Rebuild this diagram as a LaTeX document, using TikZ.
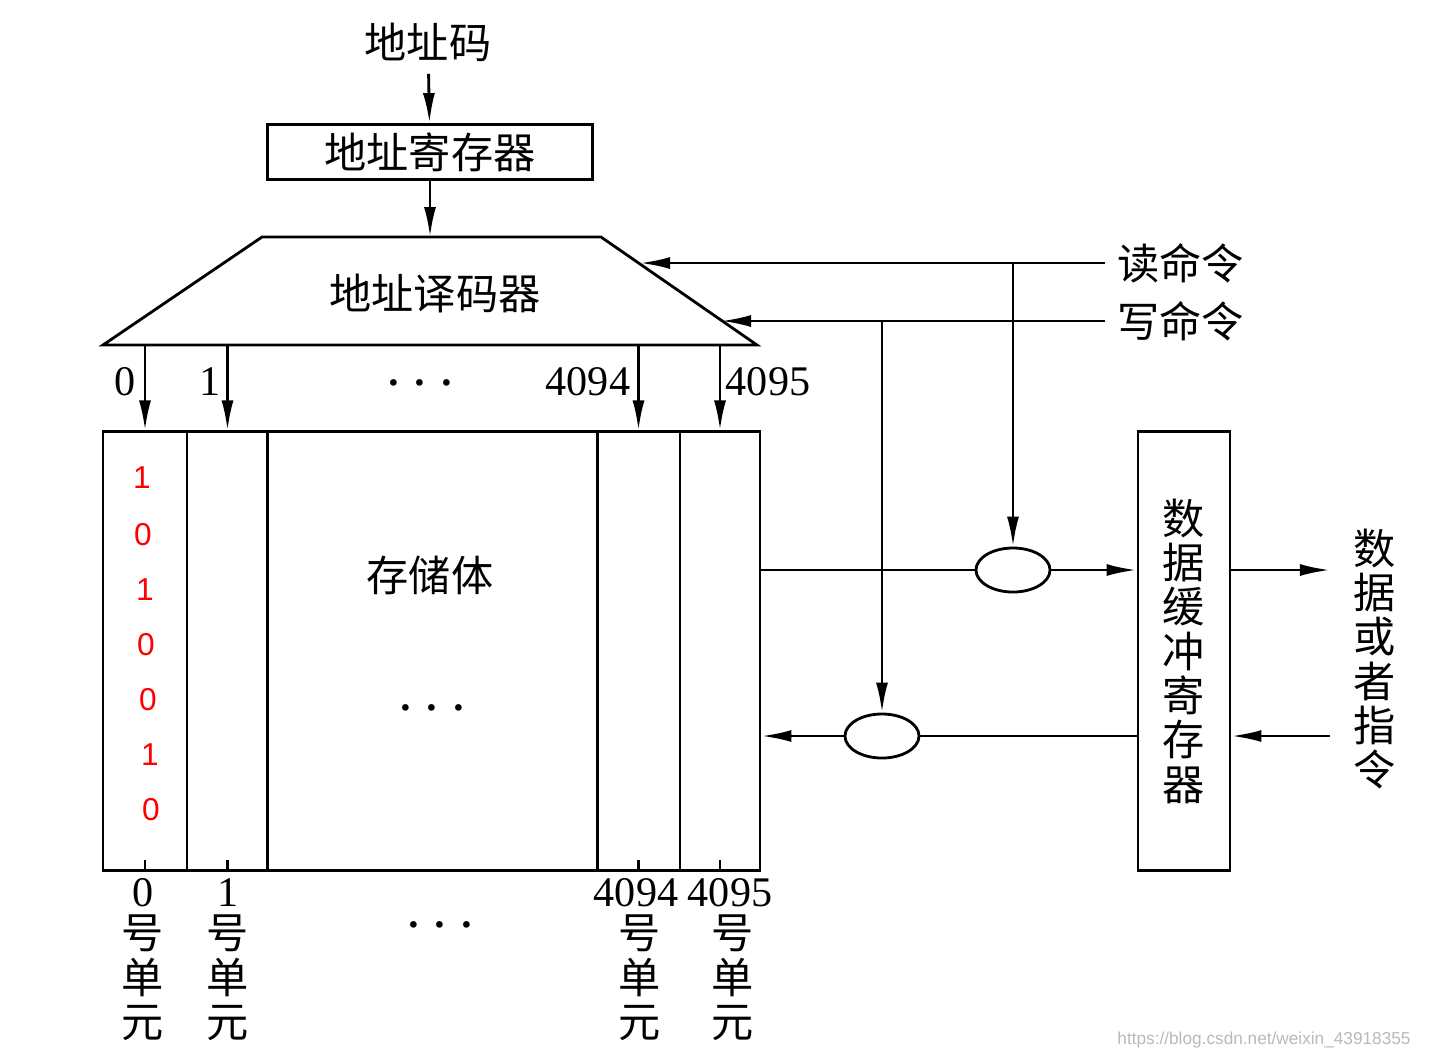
\documentclass[tikz,border=0pt]{standalone}
\usepackage{fontspec}
\setmainfont{Liberation Serif}
\newfontfamily\cjk{Noto Sans CJK SC}
\newfontfamily\bitfont{Liberation Sans}
\usetikzlibrary{arrows.meta, positioning, shapes.geometric}
\newcommand{\tridots}{·\kern2.2pt·\kern2.2pt·}

\begin{document}
\begin{tikzpicture}[
		x=0.01cm, y=-0.01cm,
		every node/.style={font=\fontsize{12}{12}\selectfont},
		zh/.style={font=\fontsize{12}{12.6}\selectfont\cjk},
		block/.style={draw, line width=0.8pt, inner sep=0pt},
		cell/.style={block, minimum height=4.38cm},
		gate/.style={draw, ellipse, line width=0.8pt, minimum width=0.74cm, minimum height=0.44cm, inner sep=0pt},
		vtext/.style={zh, align=center, inner sep=0pt},
		bit/.style={text=red, font=\fontsize{9}{9}\selectfont\bitfont},
		dots/.style={font=\fontsize{16}{16}\selectfont},
		arrowstyle/.style={-{Latex[length=3mm, width=1.2mm]}, line width=0.8pt},
		wire/.style={line width=0.8pt}
	]
	\useasboundingbox (0,0) rectangle (1432,1059);

	% address path
	\node[zh] (addr) at (428,42) {地址码};
	\node[block, zh, minimum width=3.25cm, minimum height=0.55cm] (areg) at (430,152) {地址寄存器};
	\draw[arrowstyle] (addr) -- (areg);

	% decoder
	\draw[wire] (103,345) -- (262,237) -- (601,237) -- (757,345) -- cycle;
	\node[zh] (dec) at (435,293) {地址译码器};
	\coordinate (dectop) at (430,237);
	\coordinate (decbot) at (430,345);
	\draw[arrowstyle] (areg) -- (dectop);

	% storage cells
	\node[cell, minimum width=0.84cm] (c0) at (145,651) {};
	\node[cell, minimum width=0.81cm] (c1) at (227.5,651) {};
	\node[cell, minimum width=3.29cm] (cmid) at (432.5,651) {};
	\node[cell, minimum width=0.83cm] (c4094) at (638.5,651) {};
	\node[cell, minimum width=0.80cm] (c4095) at (720,651) {};
	\node[zh] (body) at (430,575) {存储体};
	\node[dots] (bdots) at (432,716) {\tridots};

	\foreach \c in {c0,c1,c4094,c4095} {
		\draw[arrowstyle] (\c.north |- decbot) -- (\c.north);
		\draw[wire] (\c.south) -- ++(0,-12);
	}
	\node (l0) at (125,382) {0};
	\node (l1) at (210,382) {1};
	\node[dots] (ldots) at (420,391) {\tridots};
	\node (l4094) at (588,382) {4094};
	\node (l4095) at (768,382) {4095};

	% bits in unit 0
	\foreach \y/\b/\x [count=\i] in {478/1/142, 535/0/143, 590/1/145, 645/0/146, 700/0/148, 755/1/150, 810/0/151}
		\node[bit] (bit\i) at (\x,\y) {\b};

	% unit labels
	\node (n0) at (143,893) {0};
	\node (n1) at (228,893) {1};
	\node (n4094) at (636,893) {4094};
	\node (n4095) at (730,893) {4095};
	\node[vtext] (u0) at (143,978) {号\\单\\元};
	\node[vtext] (u1) at (228,978) {号\\单\\元};
	\node[vtext] (u4094) at (640,978) {号\\单\\元};
	\node[vtext] (u4095) at (733,978) {号\\单\\元};
	\node[dots] (udots) at (440,933) {\tridots};

	% read / write commands
	\node[zh, anchor=west] (rd) at (1105,263) {读命令};
	\node[zh, anchor=west] (wr) at (1105,321) {写命令};
	\coordinate (rdin) at (640,263);
	\coordinate (wrin) at (721,321);
	\coordinate (rdtap) at (1013,263);
	\coordinate (wrtap) at (882,321);
	\draw[arrowstyle] (rd.west) -- (rdin);
	\draw[arrowstyle] (wr.west) -- (wrin);

	% gates and buffer
	\node[gate] (g1) at (1013,570) {};
	\node[gate] (g2) at (882,736) {};
	\draw[arrowstyle] (rdtap) -- (g1);
	\draw[arrowstyle] (wrtap) -- (g2);
	\node[block, vtext, minimum width=0.92cm, minimum height=4.38cm] (buf) at (1184,651) {数\\据\\缓\\冲\\寄\\存\\器};
	\draw[wire] (c4095.east |- g1) -- (g1);
	\draw[arrowstyle] (g1) -- (buf.west |- g1);
	\draw[wire] (buf.west |- g2) -- (g2);
	\draw[arrowstyle] (g2) -- (c4095.east |- g2);

	% external data
	\node[vtext] (ext) at (1375,659) {数\\据\\或\\者\\指\\令};
	\coordinate (outR) at (1330,570);
	\coordinate (inR) at (1330,736);
	\draw[arrowstyle] (buf.east |- g1) -- (outR);
	\draw[arrowstyle] (inR) -- (buf.east |- g2);

	\node[anchor=east, text=gray!55, font=\fontsize{4.9}{6}\selectfont\bitfont] (wm) at (1423,1040) {https://blog.csdn.net/weixin\_43918355};
\end{tikzpicture}
\end{document}
